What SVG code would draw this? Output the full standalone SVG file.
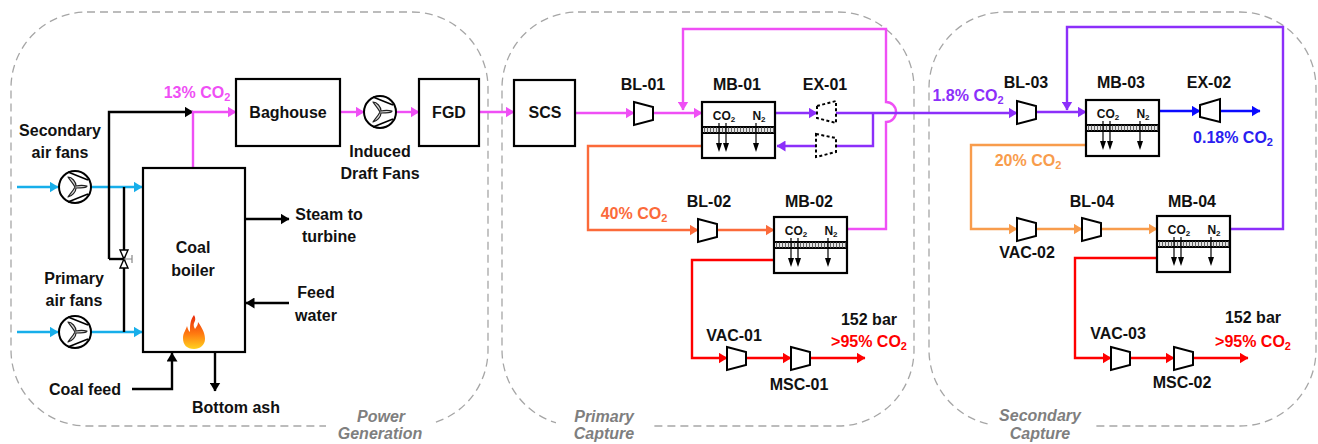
<svg xmlns="http://www.w3.org/2000/svg" width="1318" height="444" viewBox="0 0 1318 444">
<style>
text{font-family:"Liberation Sans",Arial,sans-serif;font-weight:700;font-size:16px;fill:#111;text-anchor:middle}
.sm{font-size:12px}
.panel{fill:none;stroke:#a6a6a6;stroke-width:1.3;stroke-dasharray:8 5}
.cap{font-style:italic;fill:#7f7f7f}
.box{fill:#fff;stroke:#000;stroke-width:2.2}
.comp{fill:#fff;stroke:#000;stroke-width:2}
.dash{fill:#fff;stroke:#000;stroke-width:2;stroke-dasharray:3 2.4}
.c{fill:none;stroke-width:2.4}
.k{stroke:#000;marker-end:url(#ak)}.k0{stroke:#000}
.b{stroke:#17aeea;marker-end:url(#ab)}
.p{stroke:#ef4ff5;marker-end:url(#ap)}
.v{stroke:#8c2ffa;marker-end:url(#av)}.v0{stroke:#8c2ffa}
.o{stroke:#fb6a3a;marker-end:url(#ao)}
.l{stroke:#f89c4c;marker-end:url(#al)}
.r{stroke:#ff0000;marker-end:url(#ar)}
.u{stroke:#0a0aff;marker-end:url(#au)}
</style>
<defs>
<marker id="ak" markerUnits="userSpaceOnUse" markerWidth="9" markerHeight="11" refX="8.500" refY="5.500" orient="auto"><path d="M0 0L9 5.500L0 11Z" fill="#000"/></marker>
<marker id="ab" markerUnits="userSpaceOnUse" markerWidth="9" markerHeight="11" refX="8.500" refY="5.500" orient="auto"><path d="M0 0L9 5.500L0 11Z" fill="#17aeea"/></marker>
<marker id="ap" markerUnits="userSpaceOnUse" markerWidth="9" markerHeight="11" refX="8.500" refY="5.500" orient="auto"><path d="M0 0L9 5.500L0 11Z" fill="#ef4ff5"/></marker>
<marker id="av" markerUnits="userSpaceOnUse" markerWidth="9" markerHeight="11" refX="8.500" refY="5.500" orient="auto"><path d="M0 0L9 5.500L0 11Z" fill="#8c2ffa"/></marker>
<marker id="ao" markerUnits="userSpaceOnUse" markerWidth="9" markerHeight="11" refX="8.500" refY="5.500" orient="auto"><path d="M0 0L9 5.500L0 11Z" fill="#fb6a3a"/></marker>
<marker id="al" markerUnits="userSpaceOnUse" markerWidth="9" markerHeight="11" refX="8.500" refY="5.500" orient="auto"><path d="M0 0L9 5.500L0 11Z" fill="#f89c4c"/></marker>
<marker id="ar" markerUnits="userSpaceOnUse" markerWidth="9" markerHeight="11" refX="8.500" refY="5.500" orient="auto"><path d="M0 0L9 5.500L0 11Z" fill="#ff0000"/></marker>
<marker id="au" markerUnits="userSpaceOnUse" markerWidth="9" markerHeight="11" refX="8.500" refY="5.500" orient="auto"><path d="M0 0L9 5.500L0 11Z" fill="#0a0aff"/></marker>
<linearGradient id="fl" x1="0" y1="1" x2="0" y2="0"><stop offset="0" stop-color="#ffd21f"/><stop offset=".45" stop-color="#ff7a10"/><stop offset="1" stop-color="#e8280c"/></linearGradient>
<g id="fan"><circle r="16" fill="#fff" stroke="#000" stroke-width="2"/><path d="M-7-15L13-7M-7 15L13 7" fill="none" stroke="#000" stroke-width="1.500"/><path d="M0 0C-2-4-5-7-7-10C-3-10 1-5 1-1C5-2 8-2 12-1C12 1 6 1 1 1C1 5-3 9-7 10C-5 7-2 4 0 0Z" fill="#ddd" stroke="#222" stroke-width="1.200" stroke-linejoin="round"/></g>
<g id="mem"><rect class="box" width="73" height="56"/><rect y="25" width="73" height="6" fill="#e2e2e2" stroke="#000" stroke-width="2"/><path d="M2 28H72" stroke="#666" stroke-width="5" stroke-dasharray="1 2" fill="none"/>
<path d="M17 21V46M24 21V46M54 21V46" stroke="#000" stroke-width="1.200" fill="none"/><path d="M14 41H20L17 50ZM21 41H27L24 50ZM51 41H57L54 50Z" fill="#000"/>
<text class="sm" x="22" y="18">CO<tspan font-size="8" dy="2">2</tspan></text><text class="sm" x="57" y="18">N<tspan font-size="8" dy="2">2</tspan></text></g>
<path id="cmp" class="comp" d="M0-11L19-6V7L0 12Z"/>
<path id="cmpr" class="comp" d="M0-6L20-12V11L0 6Z"/>
</defs>
<rect width="1318" height="444" fill="#fff"/>
<g id="panels">
<rect class="panel" x="11" y="12" width="477" height="414" rx="76"/>
<rect class="panel" x="502" y="12" width="412" height="414" rx="76"/>
<rect class="panel" x="929" y="12" width="387" height="414" rx="76"/>
<rect x="326" y="420" width="108" height="12" fill="#fff"/>
<rect x="556" y="420" width="94" height="12" fill="#fff"/>
<rect x="988" y="420" width="105" height="12" fill="#fff"/>
</g>
<g id="connectors">
<path class="c b" d="M17 187H58"/><path class="c b" d="M91 187H142"/>
<path class="c b" d="M17 332H58"/><path class="c b" d="M91 332H142"/>
<path class="c k" d="M109 259V112H193"/><path class="c k0" d="M109 259H123"/>
<path class="c k0" d="M124 187V332"/>
<path class="c p" d="M193 168V112H236"/>
<path class="c p" d="M340 112H364"/><path class="c p" d="M396 112H419"/><path class="c p" d="M479 112H514"/><path class="c p" d="M575 113H634"/><path class="c p" d="M653 113H702"/>
<path class="c k" d="M245 219H289"/><path class="c k" d="M289 303H246"/>
<path class="c k" d="M132 389H172V353"/>
<path class="c k" d="M215 352V391"/>
<path class="c p" d="M847 229H886V122A10 10 0 0 0 886 102V29H683V110"/>
<path class="c v" d="M776 113H817"/>
<path class="c v" d="M836 113H1017"/>
<path class="c v0" d="M873 113V146H836"/>
<path class="c v" d="M816 146H777"/>
<path class="c v" d="M1036 112H1086"/>
<path class="c v" d="M1231 229H1283V27H1067V110"/>
<path class="c u" d="M1159 111H1200"/><path class="c u" d="M1220 111H1260"/>
<path class="c o" d="M702 146H588V230H698"/><path class="c o" d="M718 230H774"/>
<path class="c r" d="M774 260H692V358H727"/><path class="c r" d="M747 358H791"/><path class="c r" d="M810 358H865"/>
<path class="c l" d="M1086 145H971V229H1017"/><path class="c l" d="M1037 229H1082"/><path class="c l" d="M1101 229H1157"/>
<path class="c r" d="M1157 258H1075V358H1111"/><path class="c r" d="M1131 358H1174"/><path class="c r" d="M1194 358H1248"/>
</g>
<g id="valve"><path d="M120 250H128L124 259ZM124 259L120 268H128Z" fill="#fff" stroke="#000" stroke-width="1.400"/><path d="M124 259H132M132 255V263" stroke="#888" stroke-width="1.200" fill="none"/></g>
<g id="boiler"><rect class="box" x="143" y="168" width="102" height="184"/><text x="193" y="253">Coal</text><text x="193" y="276">boiler</text>
<path d="M194 315C198 322 191 322 195 329C197 326 198 325 198 322C203 329 205 334 205 339C205 345 200 349 194 349C187 349 183 345 183 338C183 333 186 330 187 326C188 330 189 331 190 332C190 326 190 320 194 315Z" fill="url(#fl)"/></g>
<g id="baghouse"><rect class="box" x="236" y="79" width="104" height="67"/><text x="288" y="118">Baghouse</text></g>
<g id="fgd"><rect class="box" x="419" y="79" width="60" height="67"/><text x="449" y="118">FGD</text></g>
<g id="scs"><rect class="box" x="514" y="80" width="61" height="66"/><text x="545" y="118">SCS</text></g>
<g id="fan-secondary"><use href="#fan" x="75" y="187"/><text x="60" y="136">Secondary</text><text x="60" y="158">air fans</text></g>
<g id="fan-primary"><use href="#fan" x="75" y="332"/><text x="74" y="284">Primary</text><text x="74" y="306">air fans</text></g>
<g id="fan-id"><use href="#fan" x="380" y="112"/><text x="380" y="157">Induced</text><text x="380" y="179">Draft Fans</text></g>
<g id="bl-01"><use href="#cmp" x="634" y="113"/><text x="643" y="90">BL-01</text></g>
<g id="mb-01"><use href="#mem" x="702" y="102"/><text x="737" y="90">MB-01</text></g>
<g id="ex-01"><path class="dash" d="M817 106L836 101V123L817 118Z"/><path class="dash" d="M816 134L836 138V152L816 157Z"/><text x="825" y="90">EX-01</text></g>
<g id="bl-02"><use href="#cmp" x="698" y="230"/><text x="709" y="207">BL-02</text></g>
<g id="mb-02"><use href="#mem" x="774" y="217"/><text x="809" y="207">MB-02</text></g>
<g id="vac-01"><use href="#cmp" x="727" y="358"/><text x="734" y="341">VAC-01</text></g>
<g id="msc-01"><use href="#cmp" x="791" y="358"/><text x="799" y="390">MSC-01</text></g>
<g id="bl-03"><use href="#cmp" x="1017" y="112"/><text x="1026" y="88">BL-03</text></g>
<g id="mb-03"><use href="#mem" x="1086" y="100"/><text x="1121" y="88">MB-03</text></g>
<g id="ex-02"><use href="#cmpr" x="1200" y="111"/><text x="1209" y="88">EX-02</text></g>
<g id="vac-02"><use href="#cmp" x="1017" y="229"/><text x="1027" y="258">VAC-02</text></g>
<g id="bl-04"><use href="#cmp" x="1082" y="229"/><text x="1092" y="207">BL-04</text></g>
<g id="mb-04"><use href="#mem" x="1157" y="216"/><text x="1192" y="207">MB-04</text></g>
<g id="vac-03"><use href="#cmp" x="1111" y="358"/><text x="1118" y="339">VAC-03</text></g>
<g id="msc-02"><use href="#cmp" x="1174" y="358"/><text x="1182" y="388">MSC-02</text></g>
<g id="labels">
<text x="197" y="98" style="fill:#ef4ff5">13% CO<tspan font-size="11" dy="3">2</tspan></text>
<text x="329" y="220">Steam to</text><text x="329" y="242">turbine</text>
<text x="316" y="298">Feed</text><text x="316" y="321">water</text>
<text x="85" y="395">Coal feed</text><text x="236" y="413">Bottom ash</text>
<text x="381" y="422" class="cap" style="fill:#7f7f7f">Power</text><text x="380" y="439" class="cap" style="fill:#7f7f7f">Generation</text>
<text x="604" y="422" class="cap" style="fill:#7f7f7f">Primary</text><text x="604" y="439" class="cap" style="fill:#7f7f7f">Capture</text>
<text x="1040" y="421" class="cap" style="fill:#7f7f7f">Secondary</text><text x="1040" y="439" class="cap" style="fill:#7f7f7f">Capture</text>
<text x="634" y="219" style="fill:#fb6a3a">40% CO<tspan font-size="11" dy="3">2</tspan></text>
<text x="869" y="325">152 bar</text>
<text x="869" y="347" style="fill:#ff0000">&gt;95% CO<tspan font-size="11" dy="3">2</tspan></text>
<text x="968" y="101" style="fill:#8c2ffa">1.8% CO<tspan font-size="11" dy="3">2</tspan></text>
<text x="1028" y="166" style="fill:#f89c4c">20% CO<tspan font-size="11" dy="3">2</tspan></text>
<text x="1233" y="143" style="fill:#2a1df0">0.18% CO<tspan font-size="11" dy="3">2</tspan></text>
<text x="1253" y="323">152 bar</text>
<text x="1253" y="347" style="fill:#ff0000">&gt;95% CO<tspan font-size="11" dy="3">2</tspan></text>
</g>
</svg>
